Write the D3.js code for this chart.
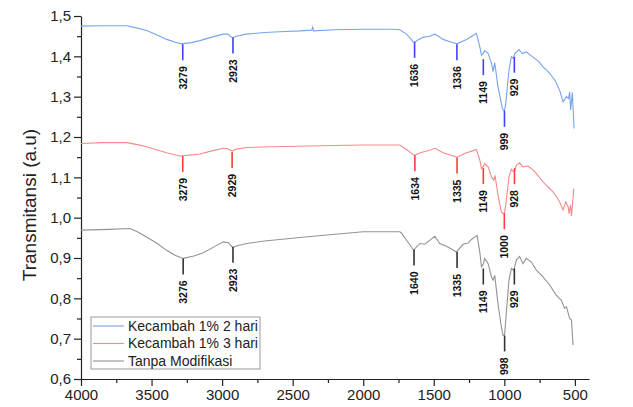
<!DOCTYPE html>
<html>
<head>
<meta charset="utf-8">
<script src="https://cdn.jsdelivr.net/npm/d3@7"></script>
<style>
    body { margin: 0; background: #fff; }
    svg { font-family: Arial, "Liberation Sans", sans-serif; }
</style>
</head>
<body>
<svg id="chart" width="633" height="407"></svg>
<script>
// spectra, [wavenumber, transmitansi]
let kec2Data = [[4000,1.475],[3850,1.476],[3676,1.476],[3600,1.470],[3535,1.464],[3460,1.453],[3393,1.442],[3330,1.435],[3287,1.431],[3220,1.434],[3157,1.439],[3080,1.447],[2992,1.455],[2960,1.455],[2933,1.447],[2923,1.446],[2900,1.450],[2826,1.455],[2700,1.459],[2591,1.461],[2450,1.463],[2365,1.465],[2358,1.472],[2352,1.463],[2200,1.466],[2000,1.467],[1800,1.467],[1741,1.466],[1693,1.455],[1660,1.442],[1647,1.436],[1636,1.435],[1610,1.441],[1576,1.447],[1530,1.450],[1493,1.455],[1460,1.448],[1434,1.442],[1390,1.437],[1344,1.432],[1336,1.431],[1300,1.437],[1268,1.442],[1230,1.450],[1198,1.457],[1174,1.424],[1162,1.403],[1149,1.408],[1139,1.414],[1115,1.407],[1091,1.383],[1080,1.362],[1068,1.384],[1045,1.325],[1014,1.271],[1004,1.265],[999,1.265],[990,1.283],[967,1.366],[950,1.399],[938,1.395],[926,1.407],[896,1.417],[872,1.407],[844,1.411],[815,1.403],[785,1.395],[755,1.387],[726,1.374],[700,1.366],[679,1.358],[640,1.340],[608,1.316],[584,1.287],[560,1.300],[545,1.295],[537,1.312],[530,1.267],[518,1.310],[506,1.221]];

let kec3Data = [[4000,1.184],[3850,1.186],[3676,1.186],[3600,1.181],[3535,1.176],[3460,1.168],[3393,1.161],[3299,1.153],[3230,1.155],[3157,1.158],[3080,1.165],[2992,1.172],[2960,1.171],[2933,1.166],[2929,1.165],[2900,1.170],[2826,1.174],[2650,1.176],[2472,1.177],[2200,1.179],[2000,1.180],[1741,1.180],[1693,1.169],[1660,1.160],[1642,1.155],[1634,1.155],[1610,1.159],[1576,1.163],[1530,1.167],[1493,1.172],[1460,1.166],[1434,1.161],[1390,1.156],[1344,1.151],[1335,1.150],[1300,1.156],[1268,1.161],[1230,1.165],[1198,1.169],[1174,1.143],[1162,1.122],[1149,1.127],[1139,1.134],[1115,1.126],[1091,1.101],[1075,1.093],[1066,1.105],[1045,1.056],[1021,1.014],[1009,1.010],[1000,1.011],[990,1.031],[967,1.101],[950,1.120],[934,1.114],[928,1.116],[915,1.130],[892,1.136],[868,1.126],[833,1.128],[810,1.122],[785,1.114],[755,1.102],[726,1.089],[690,1.076],[655,1.064],[630,1.052],[608,1.039],[584,1.019],[565,1.039],[548,1.027],[541,1.010],[531,1.031],[524,1.004],[508,1.072]];

let tanpaData = [[4000,0.969],[3800,0.971],[3653,0.973],[3600,0.965],[3535,0.952],[3460,0.936],[3393,0.919],[3330,0.906],[3276,0.899],[3200,0.905],[3134,0.913],[3060,0.927],[2992,0.940],[2955,0.938],[2926,0.926],[2900,0.930],[2826,0.936],[2700,0.942],[2591,0.946],[2450,0.951],[2355,0.954],[2200,0.959],[2001,0.965],[1850,0.965],[1741,0.965],[1729,0.962],[1693,0.944],[1660,0.928],[1647,0.921],[1640,0.921],[1599,0.936],[1564,0.934],[1525,0.945],[1493,0.954],[1458,0.936],[1410,0.929],[1339,0.915],[1292,0.934],[1257,0.937],[1233,0.946],[1193,0.956],[1174,0.915],[1162,0.878],[1149,0.885],[1139,0.899],[1115,0.886],[1091,0.853],[1080,0.845],[1068,0.857],[1045,0.787],[1021,0.729],[1009,0.708],[998,0.710],[990,0.746],[967,0.845],[950,0.874],[934,0.870],[929,0.875],[915,0.895],[892,0.904],[868,0.886],[844,0.899],[809,0.890],[773,0.870],[726,0.853],[679,0.833],[632,0.808],[596,0.795],[573,0.775],[560,0.779],[537,0.750],[524,0.746],[513,0.684]];

// labelled peaks, [wavenumber, value where the marker starts]
let kec2Peaks = [[3279,1.430],[2923,1.447],[1636,1.436],[1336,1.430],[1149,1.393],[999,1.265],[929,1.399]];
let kec3Peaks = [[3279,1.153],[2929,1.163],[1634,1.155],[1335,1.149],[1149,1.123],[1000,1.011],[928,1.123]];
let tanpaPeaks = [[3276,0.899],[2923,0.928],[1640,0.921],[1335,0.915],[1149,0.874],[998,0.708],[929,0.874]];

let seriesNames = ["Kecambah 1% 2 hari", "Kecambah 1% 3 hari", "Tanpa Modifikasi"];
let xTicks = [4000, 3500, 3000, 2500, 2000, 1500, 1000, 500];
let yTicks = [0.6, 0.7, 0.8, 0.9, 1.0, 1.1, 1.2, 1.3, 1.4, 1.5];

(function () {
    let svg = d3.select("#chart");

    let x = d3.scaleLinear().domain([4000, 400]).range([81, 589]);
    let y = d3.scaleLinear().domain([0.6, 1.5]).range([379, 16]);

    let series = [
        {name: seriesNames[0], data: kec2Data, peaks: kec2Peaks, color: "#77a3ec", mark: "#3f3fff"},
        {name: seriesNames[1], data: kec3Data, peaks: kec3Peaks, color: "#f48b8b", mark: "#ff3b3b"},
        {name: seriesNames[2], data: tanpaData, peaks: tanpaPeaks, color: "#939393", mark: "#333333"}
    ];

    let comma = d => String(d).replace(".", ",");

    // minor ticks first, majors over them
    let xMinor = d3.range(3750, 400, -500);
    svg.append("g").attr("transform", "translate(0,379)")
        .call(d3.axisBottom(x).tickValues(xMinor).tickSize(4).tickFormat(""))
        .call(g => g.select(".domain").remove());
    let yMinor = d3.range(0.65, 1.5, 0.1);
    svg.append("g").attr("transform", "translate(81,0)")
        .call(d3.axisLeft(y).tickValues(yMinor).tickSize(4).tickFormat(""))
        .call(g => g.select(".domain").remove());

    svg.append("g").attr("transform", "translate(0,379)")
        .call(d3.axisBottom(x).tickValues(xTicks).tickSize(7).tickSizeOuter(0).tickPadding(3)
            .tickFormat(d3.format("d")));
    svg.append("g").attr("transform", "translate(81,0)")
        .call(d3.axisLeft(y).tickValues(yTicks).tickSize(7).tickSizeOuter(0).tickPadding(3)
            .tickFormat(d => comma(d3.format(".1f")(d))));

    svg.selectAll(".tick text").attr("font-size", 15).attr("fill", "#222").attr("font-family", null);
    svg.selectAll(".domain, .tick line").attr("stroke", "#222").attr("stroke-width", 1.2);

    svg.append("text")
        .attr("transform", "translate(29,205) rotate(-90)")
        .attr("text-anchor", "middle")
        .attr("dy", "0.35em")
        .attr("font-size", 19)
        .attr("fill", "#222")
        .text("Transmitansi (a.u)");

    let line = d3.line().x(d => x(d[0])).y(d => y(d[1]));

    series.forEach(s => {
        svg.append("path")
            .datum(s.data)
            .attr("d", line)
            .attr("fill", "none")
            .attr("stroke", s.color)
            .attr("stroke-width", 1.1);

        let pk = svg.append("g").selectAll("g").data(s.peaks).enter().append("g");
        pk.append("line")
            .attr("x1", d => x(d[0])).attr("x2", d => x(d[0]))
            .attr("y1", d => y(d[1])).attr("y2", d => y(d[1]) + 16)
            .attr("stroke", s.mark)
            .attr("stroke-width", 1.6);
        pk.append("text")
            .attr("transform", d => `translate(${x(d[0])},${y(d[1]) + 22}) rotate(-90)`)
            .attr("text-anchor", "end")
            .attr("dy", "0.36em")
            .attr("font-size", 10.5)
            .attr("font-weight", "bold")
            .attr("fill", "#111")
            .text(d => d[0]);
    });

    // legend
    let legend = svg.append("g");
    legend.append("rect")
        .attr("x", 91).attr("y", 317).attr("width", 169).attr("height", 52)
        .attr("fill", "#fff").attr("stroke", "#999").attr("stroke-width", 1);
    let rows = legend.selectAll("g.row").data(series).enter().append("g")
        .attr("transform", (d, i) => `translate(0,${326 + i * 17.5})`);
    rows.append("line")
        .attr("x1", 93).attr("x2", 124)
        .attr("stroke", d => d.color).attr("stroke-width", 1.1);
    rows.append("text")
        .attr("x", 128).attr("dy", "0.35em")
        .attr("font-size", 14).attr("fill", "#222")
        .text(d => d.name);
})();
</script>
</body>
</html>
